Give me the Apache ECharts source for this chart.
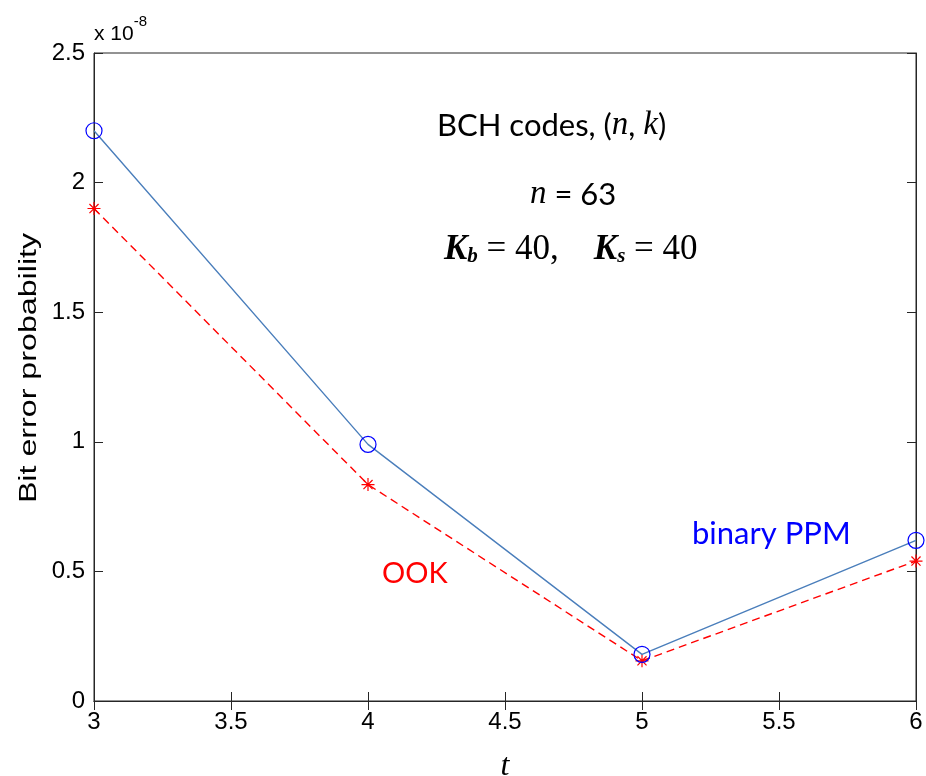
<!DOCTYPE html>
<html><head><meta charset="utf-8">
<script src="https://cdn.jsdelivr.net/npm/echarts@6/dist/echarts.min.js"></script>
<style>html,body{margin:0;padding:0;background:#fff}#c{width:926px;height:776px}</style>
</head><body><div id="c"></div>
<script>
const tValues = [3, 4, 5, 6];
const ppmValues = [2.2, 0.99, 0.18, 0.62];   // x 10^-8
const ookValues = [1.9, 0.835, 0.155, 0.54]; // x 10^-8
const xTicks = [3, 3.5, 4, 4.5, 5, 5.5, 6];
const yTicks = [0, 0.5, 1, 1.5, 2, 2.5];

const chart = echarts.init(document.getElementById('c'), null, {renderer: 'canvas'});
const axisCol = '#262626';
const star = 'path://M0,-10L0,10M-10,0L10,0M-7,-7L7,7M-7,7L7,-7';
const common = {
  axisLine: {lineStyle: {color: axisCol, width: 1}},
  axisTick: {inside: true, length: 9, lineStyle: {color: axisCol}},
  splitLine: {show: false}
};
const xBase = {type: 'value', min: 3, max: 6, interval: 0.5};
const yBase = {type: 'value', min: 0, max: 2.5, interval: 0.5};
chart.setOption({
  animation: false,
  grid: {left: 94, right: 10, top: 53, bottom: 75, show: true, borderColor: axisCol, borderWidth: 1,
    containLabel: false, outerBoundsMode: 'none'},
  xAxis: [
    Object.assign({}, xBase, common, {
      position: 'bottom',
      name: 't', nameLocation: 'middle', nameGap: 50,
      nameTextStyle: {fontFamily: 'Liberation Serif', fontStyle: 'italic', fontSize: 32, color: '#000'},
      axisLabel: {fontFamily: 'Liberation Sans', fontSize: 24, color: '#000', margin: 9,
        formatter: v => xTicks.includes(v) ? String(v) : ''}
    }),
    Object.assign({}, xBase, common, {position: 'top', axisLabel: {show: false}})
  ],
  yAxis: [
    Object.assign({}, yBase, common, {
      position: 'left',
      axisLabel: {fontFamily: 'Liberation Sans', fontSize: 24, color: '#000', margin: 9,
        formatter: v => yTicks.includes(v) ? String(v) : ''}
    }),
    Object.assign({}, yBase, common, {position: 'right', axisLabel: {show: false}})
  ],
  series: [
    {
      type: 'line', name: 'binary PPM',
      data: tValues.map((t, i) => [t, ppmValues[i]]),
      lineStyle: {color: '#4a7ebb', width: 1.4},
      symbol: 'circle', symbolSize: 16,
      itemStyle: {color: 'none', borderColor: '#0000ff', borderWidth: 1.2},
      z: 3
    },
    {
      type: 'line', name: 'OOK',
      data: tValues.map((t, i) => [t, ookValues[i]]),
      lineStyle: {color: '#ff0000', width: 1.4, type: [8, 5]},
      symbol: star, symbolSize: 13,
      itemStyle: {color: 'none', borderColor: '#ff0000', borderWidth: 1.2},
      z: 2
    }
  ],
  graphic: [
    {type: 'text', x: 30, y: 368, rotation: Math.PI / 2, scaleX: 1.4, style: {
      text: 'Bit error probability', fontFamily: 'Liberation Sans', fontSize: 23, fill: '#000',
      align: 'center', verticalAlign: 'middle'}},
    {type: 'text', left: 94, top: 14, style: {
      text: '{a|x 10}{s|-8}', rich: {
        a: {fontFamily: 'Liberation Sans', fontSize: 21, fill: '#000', verticalAlign: 'bottom', padding: [10, 0, 0, 0]},
        s: {fontFamily: 'Liberation Sans', fontSize: 15, fill: '#000', verticalAlign: 'top'}
      }}},
    {type: 'text', left: 437, top: 109, style: {
      text: '{a|BCH codes, (}{i|n}{a|, }{i|k}{a|)}', rich: {
        a: {fontFamily: 'Lato', fontSize: 31, fill: '#000'},
        i: {fontFamily: 'Liberation Serif', fontStyle: 'italic', fontSize: 33, fill: '#000'}
      }}},
    {type: 'text', left: 530, top: 178, style: {
      text: '{i|n}{a| = 63}', rich: {
        a: {fontFamily: 'Lato', fontSize: 31, fill: '#000'},
        i: {fontFamily: 'Liberation Serif', fontStyle: 'italic', fontSize: 33, fill: '#000'}
      }}},
    {type: 'text', left: 444, top: 232, style: {
      text: '{k|K}{b|b}{e| = 40,    }{k|K}{b|s}{e| = 40}', rich: {
        k: {fontFamily: 'Liberation Serif', fontStyle: 'italic', fontWeight: 'bold', fontSize: 35, fill: '#000'},
        b: {fontFamily: 'Liberation Serif', fontStyle: 'italic', fontWeight: 'bold', fontSize: 21, fill: '#000', verticalAlign: 'bottom', padding: [14, 0, 0, 0]},
        e: {fontFamily: 'Liberation Serif', fontSize: 35, fill: '#000'}
      }}},
    {type: 'text', left: 692, top: 518, style: {text: 'binary PPM', fontFamily: 'Lato', fontSize: 31, fill: '#0000ff'}},
    {type: 'text', left: 382, top: 559, style: {text: 'OOK', fontFamily: 'Lato', fontSize: 29, fill: '#ff0000'}}
  ]
});
</script></body></html>
